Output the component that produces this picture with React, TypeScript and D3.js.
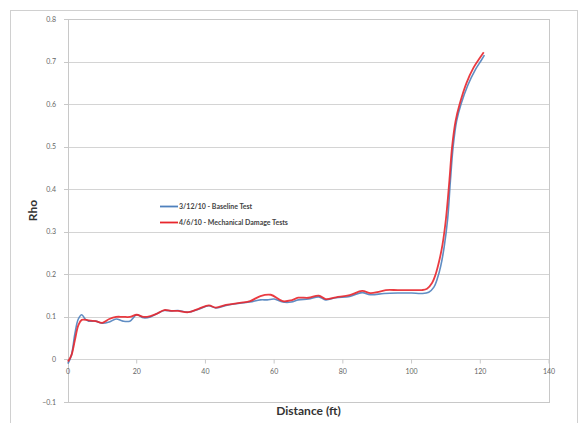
import React, { useEffect, useRef } from "react";
import * as d3 from "d3";

// distance (ft) and rho
const baselineX = [0, 1, 2, 3, 4, 5, 6, 8, 10, 12, 14, 16, 18, 20, 22, 24, 26, 28, 30, 32, 35, 38, 41, 43, 46, 50, 53, 56, 58, 60, 62.5, 65, 67, 70, 73, 75, 78, 82, 85.6, 88, 92, 96, 100, 103, 105, 106.5, 107.5, 108.5, 109.5, 110.5, 111.3, 112.1, 113.1, 114.4, 116.4, 118.5, 120.3, 121.2];
const baselineY = [-0.01, 0.01, 0.06, 0.095, 0.105, 0.095, 0.09, 0.09, 0.085, 0.088, 0.095, 0.09, 0.09, 0.105, 0.098, 0.1, 0.108, 0.115, 0.114, 0.115, 0.111, 0.118, 0.126, 0.121, 0.127, 0.132, 0.135, 0.14, 0.14, 0.142, 0.135, 0.135, 0.14, 0.142, 0.147, 0.14, 0.145, 0.148, 0.157, 0.152, 0.155, 0.156, 0.156, 0.155, 0.158, 0.17, 0.19, 0.22, 0.265, 0.33, 0.42, 0.5, 0.56, 0.6, 0.645, 0.68, 0.703, 0.715];

const damageX = [0, 1, 2, 3, 4, 6, 8, 10, 12, 14, 16, 18, 20, 22, 24, 26, 28, 30, 32, 35, 38, 41, 43, 46, 50, 53, 56, 59, 62.5, 65, 67, 70, 73, 75, 78, 82, 85.6, 88, 90, 92.5, 96, 100, 103, 104.5, 106, 107, 108, 109, 110, 111, 111.8, 112.8, 114, 116, 118, 120, 121];
const damageY = [-0.005, 0.01, 0.045, 0.08, 0.093, 0.092, 0.09, 0.086, 0.095, 0.1, 0.1, 0.1, 0.105, 0.1, 0.102, 0.108, 0.116, 0.114, 0.114, 0.111, 0.119, 0.127, 0.122, 0.128, 0.133, 0.137, 0.149, 0.152, 0.137, 0.139, 0.145, 0.145, 0.15, 0.142, 0.146, 0.151, 0.161, 0.156, 0.158, 0.163, 0.163, 0.163, 0.163, 0.166, 0.18, 0.2, 0.23, 0.27, 0.33, 0.42, 0.5, 0.56, 0.6, 0.65, 0.685, 0.71, 0.722];

const xTicks = [0, 20, 40, 60, 80, 100, 120, 140];
const yTicks = [-0.1, 0, 0.1, 0.2, 0.3, 0.4, 0.5, 0.6, 0.7, 0.8];
const seriesNames = ["3/12/10 - Baseline Test", "4/6/10 - Mechanical Damage Tests"];
const seriesColors = ["#4f81bd", "#e8262c"];

const App = () => {
  const ref = useRef<SVGSVGElement>(null);

  useEffect(() => {
    const svg = d3.select(ref.current);
    svg.selectAll("*").remove();

    const left = 68, right = 549, top = 19, bottom = 402;
    const x = d3.scaleLinear().domain([0, 140]).range([left, right]);
    const y = d3.scaleLinear().domain([-0.1, 0.8]).range([bottom, top]);

    // outer chart frame
    svg.append("rect")
      .attr("x", 10.5).attr("y", 10.5).attr("width", 567).attr("height", 420)
      .attr("fill", "#fff").attr("stroke", "#d0d0d0");

    // gridlines
    svg.append("g").selectAll("line").data(yTicks).enter().append("line")
      .attr("x1", left).attr("x2", right)
      .attr("y1", (d) => Math.round(y(d)) + 0.5).attr("y2", (d) => Math.round(y(d)) + 0.5)
      .attr("stroke", "#d4d4d4");

    // plot border
    svg.append("rect")
      .attr("x", left + 0.5).attr("y", top + 0.5)
      .attr("width", right - left).attr("height", bottom - top)
      .attr("fill", "none").attr("stroke", "#c8c8c8");

    // y axis ticks + labels
    const yAxis = svg.append("g");
    yAxis.selectAll("line").data(yTicks).enter().append("line")
      .attr("x1", left - 4).attr("x2", left)
      .attr("y1", (d) => Math.round(y(d)) + 0.5).attr("y2", (d) => Math.round(y(d)) + 0.5)
      .attr("stroke", "#c8c8c8");
    yAxis.selectAll("text").data(yTicks).enter().append("text")
      .attr("x", left - 12).attr("y", (d) => y(d) + 2.5)
      .attr("text-anchor", "end")
      .attr("font-size", 7).attr("fill", "#666")
      .attr("font-family", "Lato, sans-serif")
      .text((d) => (d === 0 ? "0" : d3.format(".1f")(d)));

    // x axis at rho = 0
    const y0 = Math.round(y(0)) + 0.5;
    const xAxis = svg.append("g");
    xAxis.selectAll("line").data(xTicks).enter().append("line")
      .attr("x1", (d) => x(d)).attr("x2", (d) => x(d))
      .attr("y1", y0).attr("y2", y0 + 4)
      .attr("stroke", "#c8c8c8");
    xAxis.selectAll("text").data(xTicks).enter().append("text")
      .attr("x", (d) => x(d)).attr("y", y0 + 14)
      .attr("text-anchor", "middle")
      .attr("font-size", 7).attr("fill", "#666")
      .attr("font-family", "Lato, sans-serif")
      .text((d) => d);

    // axis titles
    svg.append("text")
      .attr("x", (left + right) / 2).attr("y", 415)
      .attr("text-anchor", "middle")
      .attr("font-size", 12).attr("font-weight", "bold").attr("fill", "#333")
      .attr("font-family", "Lato, sans-serif")
      .text("Distance (ft)");
    svg.append("text")
      .attr("transform", `translate(37,${(top + bottom) / 2}) rotate(-90)`)
      .attr("text-anchor", "middle")
      .attr("font-size", 12).attr("font-weight", "bold").attr("fill", "#333")
      .attr("font-family", "Lato, sans-serif")
      .text("Rho");

    // series
    const line = d3.line<[number, number]>()
      .x((d) => x(d[0])).y((d) => y(d[1]))
      .curve(d3.curveCatmullRom.alpha(0.5));
    const series = [
      baselineX.map((v, i) => [v, baselineY[i]] as [number, number]),
      damageX.map((v, i) => [v, damageY[i]] as [number, number]),
    ];
    series.forEach((pts, i) => {
      svg.append("path")
        .datum(pts)
        .attr("d", line)
        .attr("fill", "none")
        .attr("stroke", seriesColors[i])
        .attr("stroke-width", i === 0 ? 1.6 : 1.8)
        .attr("stroke-opacity", 0.9);
    });

    // legend
    const lg = svg.append("g");
    seriesNames.forEach((name, i) => {
      const ly = 206.5 + i * 16;
      lg.append("line")
        .attr("x1", 160).attr("x2", 178).attr("y1", ly).attr("y2", ly)
        .attr("stroke", seriesColors[i]).attr("stroke-width", 1.8);
      lg.append("text")
        .attr("x", 179).attr("y", ly + 2.5)
        .attr("font-size", 7).attr("font-weight", "bold").attr("fill", "#444")
        .attr("font-family", "Lato, sans-serif")
        .text(name);
    });
  }, []);

  return <svg ref={ref} width={581} height={423} style={{ position: "absolute", left: 0, top: 0 }}></svg>;
};

export default App;
